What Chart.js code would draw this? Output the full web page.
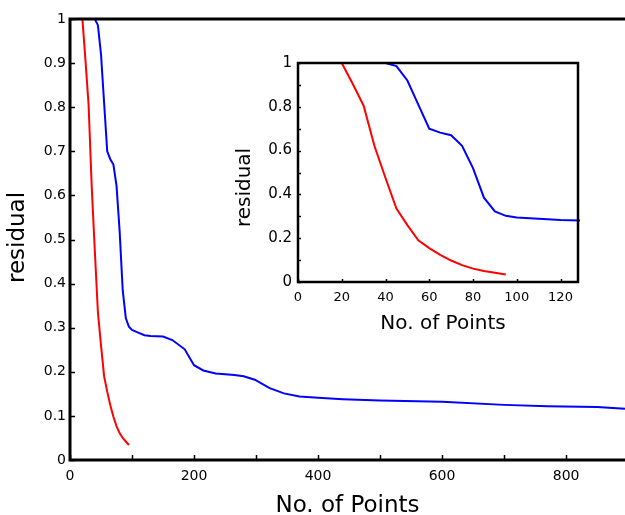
<!DOCTYPE html>
<html>
<head>
<meta charset="utf-8">
<script src="https://cdn.jsdelivr.net/npm/chart.js@4"></script>
<style>
  html, body { margin: 0; padding: 0; background: #fff; }
  #wrap { position: relative; width: 625px; height: 515px; overflow: hidden; }
  #main { position: absolute; left: 0; top: 0; }
  #inset { position: absolute; left: 230px; top: 40px; }
</style>
</head>
<body>
<div id="wrap">
  <canvas id="main" width="625" height="515"></canvas>
  <canvas id="inset" width="360" height="300"></canvas>
</div>
<script>
// ---- data ----
const blueX = [20, 40, 45, 50, 55, 60, 65, 70, 75, 80, 85, 90, 95, 100, 110, 120, 130, 150, 165, 185, 200, 215, 235, 265, 280, 298, 322, 345, 370, 400, 440, 500, 600, 700, 770, 850, 895];
const blueY = [1, 1, 0.986, 0.92, 0.81, 0.70, 0.682, 0.67, 0.622, 0.52, 0.385, 0.322, 0.302, 0.295, 0.289, 0.283, 0.281, 0.280, 0.272, 0.251, 0.215, 0.203, 0.196, 0.193, 0.19, 0.182, 0.163, 0.151, 0.144, 0.141, 0.138, 0.135, 0.132, 0.125, 0.122, 0.120, 0.116];
const redX = [20, 25, 30, 35, 40, 45, 50, 55, 60, 65, 70, 75, 80, 85, 90, 95];
const redY = [1, 0.905, 0.805, 0.62, 0.475, 0.335, 0.26, 0.19, 0.155, 0.124, 0.098, 0.077, 0.061, 0.05, 0.042, 0.034];

const xTitle = 'No. of Points';
const yTitle = 'residual';
const mainXMax = 895;
const mainXTicks = [0, 100, 200, 300, 400, 500, 600, 700, 800];
const mainXTickLabels = ['0', '', '200', '', '400', '', '600', '', '800'];
const mainYTicks = [0, 0.1, 0.2, 0.3, 0.4, 0.5, 0.6, 0.7, 0.8, 0.9, 1];
const mainYTickLabels = ['0', '0.1', '0.2', '0.3', '0.4', '0.5', '0.6', '0.7', '0.8', '0.9', '1'];
const insetXMax = 128;
const insetXTicks = [0, 20, 40, 60, 80, 100, 120];
const insetXTickLabels = ['0', '20', '40', '60', '80', '100', '120'];
const insetYTicks = [0, 0.1, 0.2, 0.3, 0.4, 0.5, 0.6, 0.7, 0.8, 0.9, 1];
const insetYTickLabels = ['0', '', '0.2', '', '0.4', '', '0.6', '', '0.8', '', '1'];

const FONT = 'DejaVu Sans';

function pts(xs, ys) { return xs.map((x, i) => ({ x: x, y: ys[i] })); }

function framePlugin(opts) {
  return {
    id: 'frame',
    afterDraw(chart) {
      const ctx = chart.ctx, a = chart.chartArea;
      const xs = chart.scales.x, ys = chart.scales.y;
      ctx.save();
      ctx.strokeStyle = '#000';
      ctx.lineWidth = opts.tickWidth;
      ctx.beginPath();
      xs.ticks.forEach(t => {
        const px = Math.round(xs.getPixelForValue(t.value)) + 0.5;
        ctx.moveTo(px, a.bottom);
        ctx.lineTo(px, a.bottom - opts.tickLen);
      });
      ys.ticks.forEach(t => {
        const py = Math.round(ys.getPixelForValue(t.value)) + 0.5;
        ctx.moveTo(a.left, py);
        ctx.lineTo(a.left + opts.tickLen, py);
      });
      ctx.stroke();
      ctx.lineWidth = opts.spine;
      ctx.lineCap = 'square';
      ctx.beginPath();
      const r = a.right + (opts.right ? 0 : 5);
      ctx.moveTo(a.left, a.bottom);
      ctx.lineTo(a.left, a.top);
      ctx.lineTo(r, a.top);
      if (opts.right) ctx.lineTo(a.right, a.bottom);
      ctx.moveTo(a.left, a.bottom);
      ctx.lineTo(r, a.bottom);
      ctx.stroke();
      ctx.restore();
    }
  };
}

function lineDs(data, color) {
  return {
    data: data, showLine: true, borderColor: color, backgroundColor: color,
    borderWidth: 2, pointRadius: 0, tension: 0, fill: false, clip: 2
  };
}

function fixedTicks(values, labels) {
  return {
    afterBuildTicks: s => { s.ticks = values.map(v => ({ value: v })); },
    callback: (v, i) => labels[i]
  };
}

// shift an axis title along its axis by a few pixels
function shiftTitle(s, dx, dy) {
  if (s._titleShifted) return;
  s._titleShifted = true;
  const orig = Object.getPrototypeOf(s).drawTitle;
  s.drawTitle = function () {
    const l = this.left, r = this.right, t = this.top, b = this.bottom;
    this.left += dx; this.right += dx; this.top += dy; this.bottom += dy;
    orig.call(this);
    this.left = l; this.right = r; this.top = t; this.bottom = b;
  };
}

function makeChart(canvas, cfg) {
  const xt = fixedTicks(cfg.xTicks, cfg.xLabels);
  const yt = fixedTicks(cfg.yTicks, cfg.yLabels);
  return new Chart(canvas, {
    type: 'scatter',
    data: { datasets: [lineDs(pts(blueX, blueY), '#0000ff'), lineDs(pts(redX, redY), '#ff0000')] },
    options: {
      responsive: false, animation: false,
      layout: { padding: cfg.padding },
      plugins: { legend: { display: false }, tooltip: { enabled: false } },
      scales: {
        x: {
          type: 'linear', min: 0, max: cfg.xMax,
          grid: { display: false, drawTicks: false }, border: { display: false },
          afterBuildTicks: xt.afterBuildTicks,
          ticks: {
            autoSkip: false, maxRotation: 0, padding: cfg.xTickPad, color: '#000',
            font: { family: FONT, size: cfg.xTickSize }, callback: xt.callback
          },
          title: { display: true, text: xTitle, color: '#000', font: { family: FONT, size: cfg.xTitleSize, lineHeight: 1.2 }, padding: { top: 0, bottom: cfg.xTitlePad } },
          afterFit: s => { s.height = cfg.xHeight; s.paddingLeft = 0; s.paddingRight = 0; shiftTitle(s, cfg.xTitleDx, 0); }
        },
        y: {
          type: 'linear', min: 0, max: 1,
          grid: { display: false, drawTicks: false }, border: { display: false },
          afterBuildTicks: yt.afterBuildTicks,
          ticks: {
            autoSkip: false, padding: cfg.yTickPad, color: '#000',
            font: { family: FONT, size: cfg.yTickSize }, callback: yt.callback
          },
          title: { display: true, text: yTitle, color: '#000', font: { family: FONT, size: cfg.yTitleSize, lineHeight: 1.2 }, padding: { top: cfg.yTitlePad, bottom: 0 } },
          afterFit: s => { s.width = cfg.yWidth; s.paddingTop = 0; s.paddingBottom = 0; shiftTitle(s, 0, cfg.yTitleDy); }
        }
      }
    },
    plugins: [framePlugin(cfg.frame)]
  });
}

makeChart(document.getElementById('main'), {
  xMax: mainXMax, xTicks: mainXTicks, xLabels: mainXTickLabels,
  yTicks: mainYTicks, yLabels: mainYTickLabels,
  padding: { top: 19, right: 0, left: 0, bottom: 0 },
  xTickPad: 8, xTickSize: 14, xTitleSize: 23, xTitlePad: -5, xHeight: 55, xTitleDx: 0,
  yTickPad: 4, yTickSize: 14, yTitleSize: 23, yTitlePad: 4, yWidth: 70, yTitleDy: -2,
  frame: { spine: 3, tickLen: 5, tickWidth: 1.5, right: false }
});

makeChart(document.getElementById('inset'), {
  xMax: insetXMax, xTicks: insetXTicks, xLabels: insetXTickLabels,
  yTicks: insetYTicks, yLabels: insetYTickLabels,
  padding: { top: 23, right: 12, left: 0, bottom: 0 },
  xTickPad: 8, xTickSize: 13, xTitleSize: 20, xTitlePad: 4, xHeight: 58, xTitleDx: 5,
  yTickPad: 6, yTickSize: 15, yTitleSize: 20, yTitlePad: 3, yWidth: 68, yTitleDy: 15,
  frame: { spine: 2.5, tickLen: 3, tickWidth: 1.5, right: true }
});
</script>
</body>
</html>
